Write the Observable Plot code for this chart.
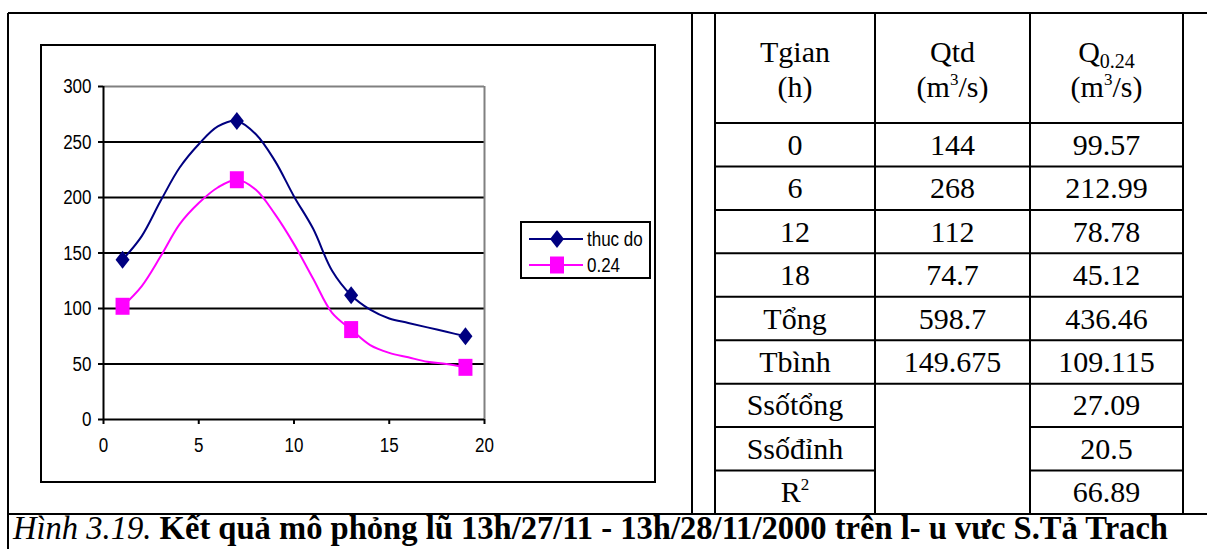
<!DOCTYPE html>
<html>
<head>
<meta charset="utf-8">
<script src="https://cdn.jsdelivr.net/npm/d3@7"></script>
<script src="https://cdn.jsdelivr.net/npm/@observablehq/plot@0.6"></script>
<style>
  body { margin: 0; background: #fff; }
  #page { position: relative; width: 1207px; height: 549px; overflow: hidden; background: #fff; }
  #chart { position: absolute; left: 40px; top: 44px; width: 616px; height: 439px; box-sizing: border-box; border: 2px solid #000; }
  #chart svg { display: block; }
  #overlay { position: absolute; left: 0; top: 0; pointer-events: none; }
</style>
</head>
<body>
<div id="page">
  <div id="chart"></div>
  <svg id="overlay" width="1207" height="549"></svg>
</div>
<script>
// Hourly discharge (m3/s): measured flow and simulated flow with parameter 0.24
const hours  = [1, 2, 3, 4, 5, 6, 7, 8, 9, 10, 11, 12, 13, 14, 15, 16, 17, 18, 19];
const thucDo = [144, 165, 197, 227, 248, 264, 269, 257, 233, 201, 172, 134, 112, 99, 91, 87, 83, 79, 75];
const q024   = [102, 120, 147, 176, 195, 209, 216, 207, 185, 158, 127, 96, 81, 67, 60, 56, 52, 50, 47];
const markerHours = [1, 7, 13, 19];
const seriesNames = ["thuc do", "0.24"];
const seriesColors = ["#000080", "#ff00ff"];
const yTicks = [0, 50, 100, 150, 200, 250, 300];
const xTicks = [0, 5, 10, 15, 20];

// Summary table
const rowLabels  = ["0", "6", "12", "18", "Tổng", "Tbình", "Ssốtổng", "Ssốđỉnh", "R2"];
const qtdValues  = ["144", "268", "112", "74.7", "598.7", "149.675", "", "", ""];
const q024Values = ["99.57", "212.99", "78.78", "45.12", "436.46", "109.115", "27.09", "20.5", "66.89"];

const captionLead = "Hình 3.19.";
const captionBody = " Kết quả mô phỏng lũ 13h/27/11 - 13h/28/11/2000 trên l- u vưc S.Tả Trach";

// Marker shapes: a slightly tall diamond and a slightly tall square
const diamond = { draw(ctx) { ctx.moveTo(0, -9); ctx.lineTo(7, 0); ctx.lineTo(0, 9); ctx.lineTo(-7, 0); ctx.closePath(); } };
const square  = { draw(ctx) { ctx.moveTo(-7, -8.5); ctx.lineTo(7, -8.5); ctx.lineTo(7, 8.5); ctx.lineTo(-7, 8.5); ctx.closePath(); } };
const symbols = [diamond, square];

const series = [thucDo, q024].map((vals, s) =>
  hours.map((h, i) => ({ hour: h, value: vals[i], series: seriesNames[s] })));
const markers = series.map(rows => rows.filter(d => markerHours.includes(d.hour)));

const chart = Plot.plot({
  width: 612,
  height: 435,
  marginLeft: 61,
  marginRight: 170,
  marginTop: 40,
  marginBottom: 62,
  style: { fontFamily: "'Liberation Sans', Arial, sans-serif", fontSize: "17px", color: "#000", background: "none" },
  x: { domain: [0, 20] },
  y: { domain: [0, 300] },
  marks: [
    Plot.ruleY(yTicks.filter(t => t > 0 && t < 300), { stroke: "#000", strokeWidth: 2 }),
    Plot.ruleY([300], { stroke: "#808080", strokeWidth: 2 }),
    Plot.ruleX([20], { stroke: "#808080", strokeWidth: 2 }),
    Plot.ruleX([0], { stroke: "#000", strokeWidth: 2 }),
    Plot.ruleY([0], { stroke: "#000", strokeWidth: 2 }),
    Plot.axisY({ ticks: yTicks, tickSize: 5, tickPadding: 7, strokeWidth: 2, label: null, tickFormat: d => String(d) }),
    Plot.axisX({ ticks: xTicks, tickSize: 5, tickPadding: 13, strokeWidth: 2, label: null, tickFormat: d => String(d) }),
    ...series.map((rows, s) => Plot.line(rows, { x: "hour", y: "value", stroke: seriesColors[s], strokeWidth: 2, curve: "catmull-rom" })),
    ...markers.map((rows, s) => Plot.dot(rows, { x: "hour", y: "value", symbol: () => symbols[s], fill: seriesColors[s], stroke: "none", r: 7 }))
  ]
});
document.getElementById("chart").appendChild(chart);

// The chart's lettering is tall and narrow: stretch each tick label vertically about its anchor
d3.select(chart).selectAll("g[aria-label$='tick label'] text").each(function () {
  const t = this.getAttribute("transform") || "";
  this.setAttribute("transform", t + " scale(1,1.22)");
});

// Frame, legend, table and caption
const svg = d3.select("#overlay");
const rule = (x1, y1, x2, y2) => svg.append("line")
  .attr("x1", x1).attr("y1", y1).attr("x2", x2).attr("y2", y2)
  .attr("stroke", "#000").attr("stroke-width", 2);

const frameTop = 13, frameBottom = 514, frameLeft = 8, divider = 692;
rule(frameLeft, frameTop, 1207, frameTop);
rule(frameLeft, frameTop, frameLeft, 549);
rule(frameLeft, frameBottom, 1207, frameBottom);
rule(divider, frameTop, divider, frameBottom);

// Legend box
const lg = svg.append("g").attr("transform", "translate(521,222)");
lg.append("rect").attr("x", 0).attr("y", 0).attr("width", 129).attr("height", 56)
  .attr("fill", "#fff").attr("stroke", "#000").attr("stroke-width", 2);
seriesNames.forEach((name, s) => {
  const cy = 17 + s * 26;
  lg.append("line").attr("x1", 8).attr("x2", 62).attr("y1", cy).attr("y2", cy)
    .attr("stroke", seriesColors[s]).attr("stroke-width", 2);
  lg.append("path").attr("transform", `translate(36,${cy})`)
    .attr("d", d3.symbol().type(symbols[s])()).attr("fill", seriesColors[s]);
  lg.append("text").attr("transform", `translate(66,${cy}) scale(1,1.22)`).attr("dy", "0.36em")
    .style("font-family", "'Liberation Sans', Arial, sans-serif").style("font-size", "17px")
    .text(name);
});

// Table grid
const colEdges = [715, 875, 1030, 1183];
const headerBottom = 123;
const rowH = (frameBottom - headerBottom) / rowLabels.length;
colEdges.forEach(x => rule(x, frameTop, x, frameBottom));
rule(colEdges[0], headerBottom, colEdges[3], headerBottom);
rowLabels.forEach((lab, i) => {
  if (i === 0) return;
  const y = headerBottom + i * rowH;
  if (qtdValues[i] === "" && qtdValues[i - 1] === "") {
    rule(colEdges[0], y, colEdges[1], y);
    rule(colEdges[2], y, colEdges[3], y);
  } else {
    rule(colEdges[0], y, colEdges[3], y);
  }
});

const serif = "'Liberation Serif', 'Times New Roman', serif";
const cx = [0, 1, 2].map(c => (colEdges[c] + colEdges[c + 1]) / 2);
const tText = (x, y) => svg.append("text").attr("x", x).attr("y", y)
  .attr("text-anchor", "middle").style("font-family", serif).style("font-size", "30px");

// Header cells
tText(cx[0], 62).text("Tgian");
tText(cx[0], 97).text("(h)");
tText(cx[1], 62).text("Qtd");
[1, 2].forEach(c => {
  const t = tText(cx[c], 97);
  t.append("tspan").text("(m");
  t.append("tspan").attr("dy", -12).style("font-size", "17px").text("3");
  t.append("tspan").attr("dy", 12).text("/s)");
});
const qh = tText(cx[2], 62);
qh.append("tspan").text("Q");
qh.append("tspan").attr("dy", 6).style("font-size", "20px").text("0.24");

// Body cells
rowLabels.forEach((lab, i) => {
  const y = headerBottom + i * rowH + rowH / 2 + 10;
  if (lab === "R2") {
    const t = tText(cx[0], y);
    t.append("tspan").text("R");
    t.append("tspan").attr("dy", -12).style("font-size", "17px").text("2");
  } else {
    tText(cx[0], y).text(lab);
  }
  if (qtdValues[i]) tText(cx[1], y).text(qtdValues[i]);
  tText(cx[2], y).text(q024Values[i]);
});

// Caption: condensed, tall lettering
const cap = svg.append("text").attr("x", 13).attr("y", 539)
  .attr("textLength", 1155).attr("lengthAdjust", "spacingAndGlyphs")
  .style("font-family", serif).style("font-size", "33px");
cap.append("tspan").style("font-style", "italic").text(captionLead);
cap.append("tspan").style("font-weight", "bold").text(captionBody);
</script>
</body>
</html>
